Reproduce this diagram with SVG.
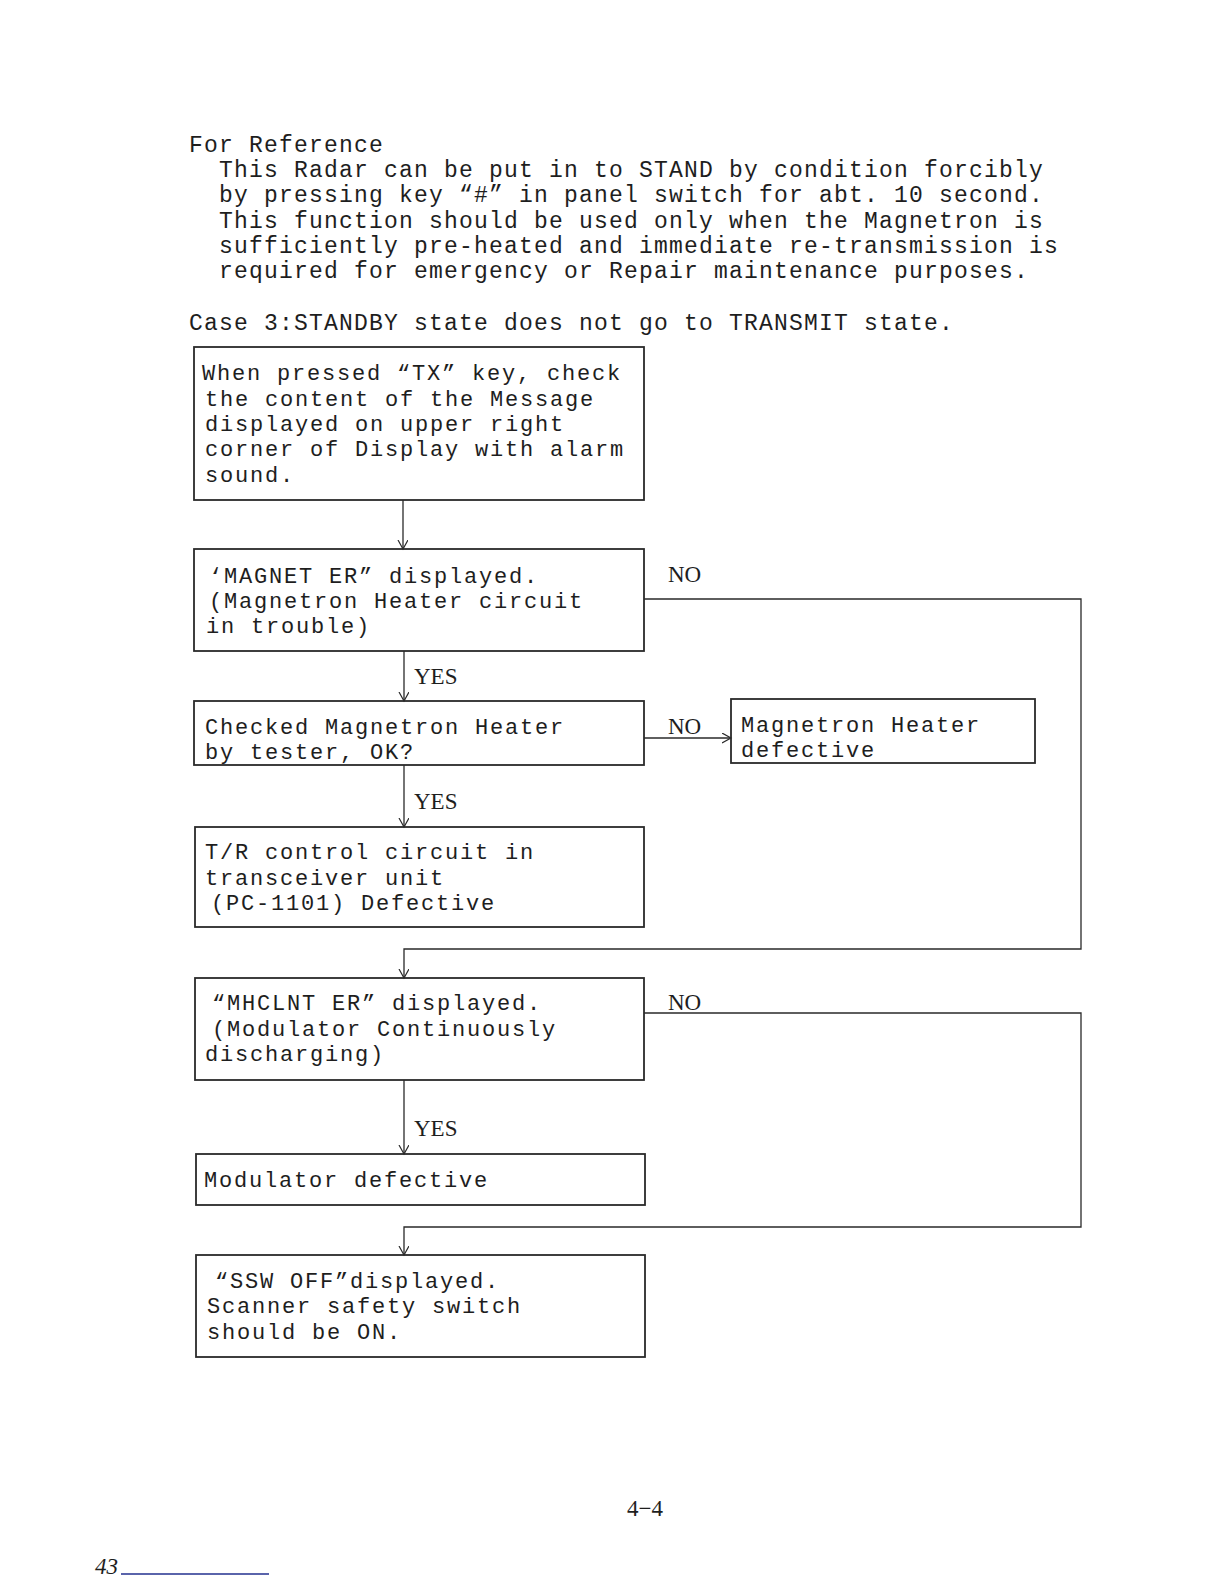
<svg xmlns="http://www.w3.org/2000/svg" width="1224" height="1584" viewBox="0 0 1224 1584">
<style>
.t{font-family:"Liberation Mono","DejaVu Sans Mono",monospace;font-size:22px;letter-spacing:1.8px;fill:#1e1e1e}
.i{font-family:"Liberation Mono","DejaVu Sans Mono",monospace;font-size:23px;letter-spacing:1.2px;fill:#1e1e1e}
.l{font-family:"Liberation Serif","DejaVu Serif",serif;font-size:23px;fill:#1e1e1e}
.box{fill:none;stroke:#2a2a2a;stroke-width:1.8}
.c{fill:none;stroke:#2a2a2a;stroke-width:1.3}
</style>
<defs>
<marker id="ah" markerUnits="userSpaceOnUse" markerWidth="12" markerHeight="12" refX="9" refY="5" orient="auto">
<path d="M0,0 L9,5 L0,10" fill="none" stroke="#2a2a2a" stroke-width="1.2"/>
</marker>
</defs>
<rect width="1224" height="1584" fill="#ffffff"/>
<g id="intro">
<text class="i" x="189" y="152">For Reference</text>
<text class="i" x="219" y="177">This Radar can be put in to STAND by condition forcibly</text>
<text class="i" x="219" y="202">by pressing key “#” in panel switch for abt. 10 second.</text>
<text class="i" x="219" y="228">This function should be used only when the Magnetron is</text>
<text class="i" x="219" y="253">sufficiently pre-heated and immediate re-transmission is</text>
<text class="i" x="219" y="278">required for emergency or Repair maintenance purposes.</text>
<text class="i" x="189" y="330">Case 3:STANDBY state does not go to TRANSMIT state.</text>
</g>
<g id="connectors">
<path class="c" d="M403,500 V549" marker-end="url(#ah)"/>
<path class="c" d="M644,599 H1081 V949 H404 V978" marker-end="url(#ah)"/>
<path class="c" d="M404,651 V701" marker-end="url(#ah)"/>
<path class="c" d="M644,738 H731" marker-end="url(#ah)"/>
<path class="c" d="M404,765 V827" marker-end="url(#ah)"/>
<path class="c" d="M644,1013 H1081 V1227 H404 V1255" marker-end="url(#ah)"/>
<path class="c" d="M404,1080 V1154" marker-end="url(#ah)"/>
<text class="l" x="668" y="582">NO</text>
<text class="l" x="668" y="734">NO</text>
<text class="l" x="668" y="1010">NO</text>
<text class="l" x="414" y="684">YES</text>
<text class="l" x="414" y="809">YES</text>
<text class="l" x="414" y="1136">YES</text>
</g>
<g id="n1">
<rect class="box" x="194" y="347" width="450" height="153"/>
<text class="t" x="202" y="380">When pressed “TX” key, check</text>
<text class="t" x="205" y="406">the content of the Message</text>
<text class="t" x="205" y="431">displayed on upper right</text>
<text class="t" x="205" y="456">corner of Display with alarm</text>
<text class="t" x="205" y="482">sound.</text>
</g>
<g id="n2">
<rect class="box" x="194" y="549" width="450" height="102"/>
<text class="t" x="209" y="583">‘MAGNET ER” displayed.</text>
<text class="t" x="209" y="608">(Magnetron Heater circuit</text>
<text class="t" x="206" y="633">in trouble)</text>
</g>
<g id="n3">
<rect class="box" x="194" y="701" width="450" height="64"/>
<text class="t" x="205" y="734">Checked Magnetron Heater</text>
<text class="t" x="205" y="759">by tester, OK?</text>
</g>
<g id="n4">
<rect class="box" x="731" y="699" width="304" height="64"/>
<text class="t" x="741" y="732">Magnetron Heater</text>
<text class="t" x="741" y="757">defective</text>
</g>
<g id="n5">
<rect class="box" x="195" y="827" width="449" height="100"/>
<text class="t" x="205" y="859">T/R control circuit in</text>
<text class="t" x="205" y="885">transceiver unit</text>
<text class="t" x="211" y="910">(PC-1101) Defective</text>
</g>
<g id="n6">
<rect class="box" x="195" y="978" width="449" height="102"/>
<text class="t" x="212" y="1010">“MHCLNT ER” displayed.</text>
<text class="t" x="212" y="1036">(Modulator Continuously</text>
<text class="t" x="205" y="1061">discharging)</text>
</g>
<g id="n7">
<rect class="box" x="196" y="1154" width="449" height="51"/>
<text class="t" x="204" y="1187">Modulator defective</text>
</g>
<g id="n8">
<rect class="box" x="196" y="1255" width="449" height="102"/>
<text class="t" x="215" y="1288">“SSW OFF”displayed.</text>
<text class="t" x="207" y="1313">Scanner safety switch</text>
<text class="t" x="207" y="1339">should be ON.</text>
</g>
<g id="footer">
<text class="l" x="627" y="1516" font-size="24">4−4</text>
<text class="l" x="95" y="1574" font-size="20" font-style="italic">43</text>
<line x1="121" y1="1574" x2="269" y2="1574" stroke="#23308f" stroke-width="1.5"/>
</g>
</svg>
